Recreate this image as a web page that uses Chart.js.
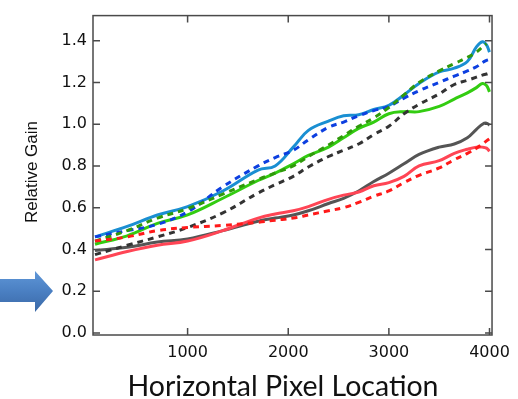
<!DOCTYPE html>
<html>
<head>
<meta charset="utf-8">
<script src="https://cdn.jsdelivr.net/npm/chart.js@4/dist/chart.umd.min.js"></script>
<style>
html,body{margin:0;padding:0;background:#fff;}
#wrap{width:518px;height:399px;position:relative;}
</style>
</head>
<body>
<div id="wrap"><canvas id="c" width="518" height="399"></canvas></div>
<script>
// Shared x positions (pixel location)
const xPos = [80, 400, 700, 1000, 1350, 1700, 1870, 2050, 2200, 2400, 2550, 2700, 2850, 3000, 3150, 3300, 3500, 3650, 3780, 3870, 3930, 3970, 4000];

const blueSolid  = [0.46, 0.51, 0.565, 0.605, 0.68, 0.78, 0.80, 0.89, 0.97, 1.015, 1.04, 1.045, 1.07, 1.09, 1.14, 1.195, 1.25, 1.268, 1.30, 1.37, 1.395, 1.38, 1.345];
const blueDashed = [0.46, 0.49, 0.52, 0.58, 0.70, 0.80, 0.84, 0.875, 0.925, 0.985, 1.01, 1.04, 1.065, 1.085, 1.125, 1.16, 1.20, 1.23, 1.255, 1.275, 1.295, 1.305, 1.31];
const greenSolid = [0.425, 0.465, 0.525, 0.565, 0.645, 0.73, 0.765, 0.81, 0.85, 0.89, 0.935, 0.98, 1.01, 1.05, 1.06, 1.06, 1.085, 1.12, 1.15, 1.175, 1.195, 1.185, 1.155];
const greenDashed= [0.44, 0.49, 0.55, 0.595, 0.665, 0.735, 0.766, 0.80, 0.845, 0.90, 0.945, 0.99, 1.03, 1.08, 1.14, 1.20, 1.255, 1.29, 1.32, 1.345, 1.37, 1.385, null];
const graySolid  = [0.395, 0.41, 0.435, 0.45, 0.49, 0.535, 0.55, 0.565, 0.585, 0.62, 0.645, 0.68, 0.725, 0.765, 0.81, 0.855, 0.89, 0.905, 0.935, 0.975, 1.0, 1.005, 0.995];
const blackDashed= [0.375, 0.42, 0.46, 0.505, 0.575, 0.67, 0.71, 0.75, 0.795, 0.845, 0.875, 0.905, 0.95, 0.99, 1.05, 1.095, 1.145, 1.19, 1.21, 1.225, 1.235, 1.24, 1.245];
const redSolid   = [0.35, 0.39, 0.42, 0.44, 0.49, 0.55, 0.57, 0.585, 0.605, 0.64, 0.66, 0.675, 0.705, 0.72, 0.75, 0.80, 0.825, 0.86, 0.88, 0.89, 0.89, 0.885, 0.87];
const redDashed  = [0.44, 0.46, 0.49, 0.505, 0.515, 0.53, 0.54, 0.55, 0.565, 0.585, 0.60, 0.625, 0.655, 0.68, 0.72, 0.755, 0.79, 0.83, 0.86, 0.885, 0.905, 0.92, 0.93];

const xTicks = [1000, 2000, 3000, 4000];
const yTicks = [0.0, 0.2, 0.4, 0.6, 0.8, 1.0, 1.2, 1.4];
const xTitle = 'Horizontal Pixel Location';
const yTitle = 'Relative Gain';

function pts(arr){ return xPos.map((x,i)=>({x:x, y:arr[i]})); }

function ds(arr, color, dashed){
  return {
    data: pts(arr),
    borderColor: color,
    borderWidth: 3,
    borderDash: dashed ? [6,5] : [],
    pointRadius: 0,
    tension: 0.4,
    fill: false,
    spanGaps: false
  };
}

const framePlugin = {
  id: 'frame',
  afterDraw(chart){
    const ctx = chart.ctx, a = chart.chartArea;
    const xs = chart.scales.x, ys = chart.scales.y;
    ctx.save();
    ctx.strokeStyle = '#4a4a4a';
    ctx.lineWidth = 1.5;
    ctx.strokeRect(a.left, a.top, a.right - a.left, a.bottom - a.top);
    ctx.beginPath();
    const tl = 7;
    yTicks.forEach(v=>{
      const y = ys.getPixelForValue(v);
      ctx.moveTo(a.left, y); ctx.lineTo(a.left + tl, y);
      ctx.moveTo(a.right, y); ctx.lineTo(a.right - tl, y);
    });
    xTicks.forEach(v=>{
      const x = xs.getPixelForValue(v);
      ctx.moveTo(x, a.bottom); ctx.lineTo(x, a.bottom - tl);
      ctx.moveTo(x, a.top); ctx.lineTo(x, a.top + tl);
    });
    ctx.stroke();

    // Axis titles
    ctx.fillStyle = '#111';
    ctx.font = '28.5px Lato';
    ctx.textAlign = 'center';
    ctx.textBaseline = 'alphabetic';
    ctx.fillText(xTitle, 283, 396);

    ctx.save();
    ctx.translate(37, 172);
    ctx.rotate(-Math.PI/2);
    ctx.font = '17px "Liberation Sans"';
    ctx.fillText(yTitle, 0, 0);
    ctx.restore();

    // Blue arrow
    const grad = ctx.createLinearGradient(0, 271, 0, 312);
    grad.addColorStop(0, '#5f97d8');
    grad.addColorStop(0.5, '#4a7fc2');
    grad.addColorStop(1, '#3a68a6');
    ctx.fillStyle = grad;
    ctx.beginPath();
    ctx.moveTo(0, 279);
    ctx.lineTo(35, 279);
    ctx.lineTo(35, 271);
    ctx.lineTo(53, 291);
    ctx.lineTo(35, 312);
    ctx.lineTo(35, 302);
    ctx.lineTo(0, 302);
    ctx.closePath();
    ctx.fill();
    ctx.restore();
  }
};

new Chart(document.getElementById('c'), {
  type: 'line',
  data: {
    datasets: [
      ds(redDashed, '#ff1a1a', true),
      ds(blackDashed, '#333333', true),
      ds(greenDashed, '#2f9a0a', true),
      ds(blueDashed, '#0d3fe0', true),
      ds(redSolid, '#ff4555', false),
      ds(graySolid, '#555555', false),
      ds(greenSolid, '#33cc11', false),
      ds(blueSolid, '#1a8fd2', false)
    ]
  },
  options: {
    responsive: false,
    animation: false,
    layout: { padding: { top: 10, right: 20, left: 0, bottom: 0 } },
    plugins: { legend: { display: false }, tooltip: { enabled: false } },
    scales: {
      x: {
        type: 'linear',
        min: 60, max: 4025,
        afterFit(s){ s.height = 64; },
        afterBuildTicks(s){ s.ticks = xTicks.map(v=>({value:v})); },
        grid: { display: false, drawTicks: false },
        border: { display: false },
        ticks: { padding: 8, color: '#111', font: { family: 'DejaVu Sans', size: 16 }, maxRotation: 0, callback: v => String(v) }
      },
      y: {
        type: 'linear',
        min: -0.01, max: 1.52,
        afterFit(s){ s.width = 93; },
        afterBuildTicks(s){ s.ticks = yTicks.map(v=>({value:v})); },
        grid: { display: false, drawTicks: false },
        border: { display: false },
        ticks: { padding: 6, color: '#111', font: { family: 'DejaVu Sans', size: 16 }, callback: v => Number(v).toFixed(1) }
      }
    }
  },
  plugins: [framePlugin]
});
</script>
</body>
</html>
